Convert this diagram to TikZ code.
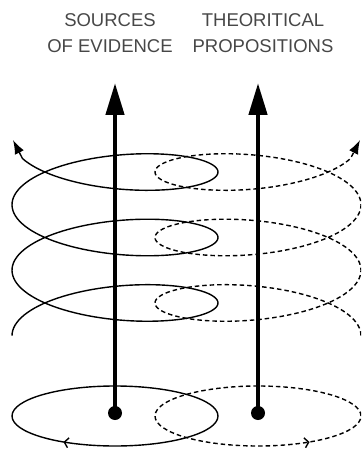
\documentclass[tikz,border=0pt]{standalone}
\usepackage{fontspec}
\setmainfont{Liberation Sans}
\usetikzlibrary{arrows.meta,decorations.markings}
\begin{document}
\begin{tikzpicture}[x=1pt,y=-1pt,
  lbl/.style={font=\fontsize{18.5}{20}\selectfont, text=black!72, anchor=base, inner sep=0pt},
  helix/.style={line width=1.4pt},
  dashedhelix/.style={line width=1.4pt, dash pattern=on 4.5pt off 3pt},
  bar/.style={line width=4.5pt, -{Triangle[length=32pt,width=18pt]}},
  dotnode/.style={circle, fill=black, minimum size=14pt, inner sep=0pt},
  tipend/.style={-{Latex[length=14pt,width=10pt]}},
  chev/.tip={Straight Barb[length=4pt,width=10pt]}
]
\useasboundingbox (0,0) rectangle (361,449);
\clip (0,0) rectangle (361,449);

% labels
\node[lbl] (s1) at (110,27) {SOURCES};
\node[lbl] (s2) at (110,53) {OF EVIDENCE};
\node[lbl] (p1) at (263,27) {THEORITICAL};
\node[lbl] (p2) at (263,53) {PROPOSITIONS};

% helices
\draw[helix, tipend] plot[domain=0:18.40, samples=300, variable=\t]
  ({115-103*cos(\t r)}, {335.7-10.42*\t-33*sin(\t r)}) -- (13,140);
\draw[dashedhelix, tipend] plot[domain=0:18.40, samples=300, variable=\t]
  ({258+103*cos(\t r)}, {335.7-10.42*\t-33*sin(\t r)}) -- (360,140);

% bottom ellipses
\draw[helix, postaction={decorate},
  decoration={markings, mark=at position 0.635 with {\arrowreversed{chev}}}]
  (115,416) ellipse [x radius=103pt, y radius=30pt];
\draw[dashedhelix, postaction={decorate},
  decoration={markings, mark=at position 0.865 with {\arrow{chev}}}]
  (258,416) ellipse [x radius=103pt, y radius=30pt];

% bars
\node[dotnode] (d1) at (115,413) {};
\node[dotnode] (d2) at (258,413) {};
\coordinate (t1) at (115,83);
\coordinate (t2) at (258,83);
\draw[bar] (d1.center) -- (t1);
\draw[bar] (d2.center) -- (t2);
\end{tikzpicture}
\end{document}
